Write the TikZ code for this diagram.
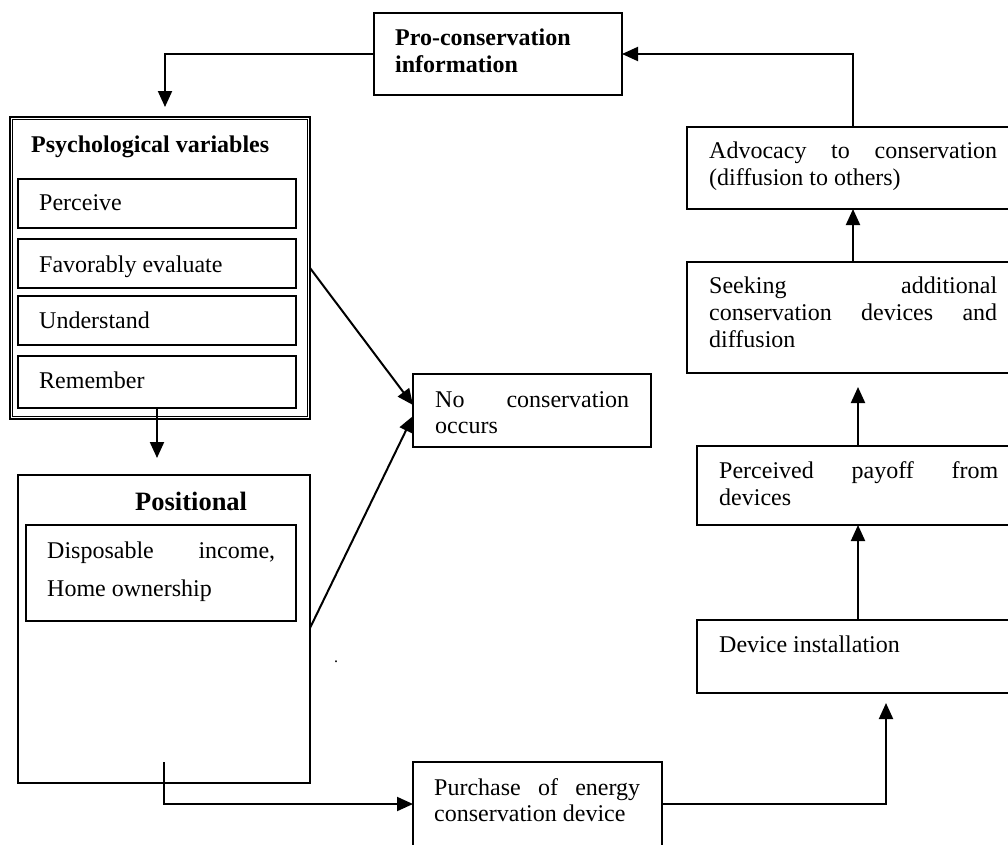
\documentclass[tikz,border=0pt]{standalone}
\usepackage{fontspec}
\setmainfont{Liberation Serif}
\usetikzlibrary{arrows.meta}
\begin{document}
\begin{tikzpicture}[x=1pt,y=-1pt,
  box/.style={draw, line width=1.7pt, inner sep=0pt, outer sep=0pt, anchor=north west},
  txt/.style={inner sep=0pt, anchor=base west, font=\fontsize{24}{27.6}\selectfont},
  hd/.style={inner sep=0pt, anchor=base west, font=\fontsize{24}{27.6}\selectfont\bfseries},
  arr/.style={line width=2pt, -{Triangle[length=16pt,width=14pt]}}]
\useasboundingbox (0,0) rectangle (1008,844);
\fill[white] (0,0) rectangle (1008,844);

% boxes
\node[box, minimum width=248pt, minimum height=82pt] (pro) at (374,13) {};
\node[box, line width=1.2pt, minimum width=300pt, minimum height=302pt] (psy) at (10,117) {};
\draw[line width=1.2pt] ([shift={(2.4,2.4)}]psy.north west) rectangle ([shift={(-2.4,-2.4)}]psy.south east);
\node[box, minimum width=278pt, minimum height=49pt] (per) at (18,179) {};
\node[box, minimum width=278pt, minimum height=49pt] (fav) at (18,239) {};
\node[box, minimum width=278pt, minimum height=49pt] (und) at (18,296) {};
\node[box, minimum width=278pt, minimum height=52pt] (rem) at (18,356) {};
\node[box, minimum width=292pt, minimum height=308pt] (pos) at (18,475) {};
\node[box, minimum width=270pt, minimum height=96pt] (inc) at (26,525) {};
\node[box, minimum width=238pt, minimum height=73pt] (nc) at (413,374) {};
\node[box, minimum width=249pt, minimum height=84pt] (pur) at (413,762) {};
\node[box, minimum width=332pt, minimum height=82pt] (adv) at (687,127) {};
\node[box, minimum width=332pt, minimum height=111pt] (seek) at (687,262) {};
\node[box, minimum width=322pt, minimum height=79pt] (perc) at (697,446) {};
\node[box, minimum width=322pt, minimum height=73pt] (dev) at (697,620) {};

% texts
\node[hd] (tpro1) at (395,45) {Pro-conservation};
\node[hd] (tpro2) at (395,72) {information};
\node[hd] (tpsy) at (31,152) {Psychological variables};
\node[txt] (tper) at (39,210) {Perceive};
\node[txt] (tfav) at (39,272) {Favorably evaluate};
\node[txt] (tund) at (39,328) {Understand};
\node[txt] (trem) at (39,388) {Remember};
\node[inner sep=0pt, anchor=base west, font=\fontsize{26.5}{30}\selectfont\bfseries] (tpos) at (135,510) {Positional};
\node[txt] (tinc1) at (47,558) {\makebox[228pt][s]{Disposable income,}};
\node[txt] (tinc2) at (47,596) {Home ownership};
\node[txt] (tnc1) at (435,407) {\makebox[194pt][s]{No conservation}};
\node[txt] (tnc2) at (435,433) {occurs};
\node[txt] (tpur1) at (434,795) {\makebox[206pt][s]{Purchase of energy}};
\node[txt] (tpur2) at (434,821) {conservation device};
\node[txt] (tadv1) at (709,158) {\makebox[288pt][s]{Advocacy to conservation}};
\node[txt] (tadv2) at (709,185) {(diffusion to others)};
\node[txt] (tsk1) at (709,293) {\makebox[288pt][s]{Seeking additional}};
\node[txt] (tsk2) at (709,320) {\makebox[288pt][s]{conservation devices and}};
\node[txt] (tsk3) at (709,347) {diffusion};
\node[txt] (tpc1) at (719,478) {\makebox[279pt][s]{Perceived payoff from}};
\node[txt] (tpc2) at (719,505) {devices};
\node[txt] (tdev) at (719,652) {Device installation};
\node[inner sep=0pt, anchor=base, font=\fontsize{16}{18}\selectfont] (dot) at (336,662) {.};

% connector end points
\coordinate (psyin) at (165,107);
\coordinate (posin) at (157,458);
\coordinate (favout) at (310,268);
\coordinate (posout) at (310,628);
\coordinate (ncin1) at (413,405);
\coordinate (ncin2) at (413,416);
\coordinate (purout) at (164,762);
\coordinate (devin) at (886,703);
\coordinate (seekin) at (858,387);

% connectors
\draw[arr] (pro.west) -| (psyin);
\draw[arr] (adv.north) |- (pro.east);
\draw[arr] (seek.north) -- (adv.south);
\draw[arr] (perc.north) -- (seekin);
\draw[arr] (dev.north) -- (perc.south);
\draw[arr] (pur.east) -| (devin);
\draw[arr] (purout) |- (pur.west);
\draw[arr] (rem.south -| posin) -- (posin);
\draw[arr] (favout) -- (ncin1);
\draw[arr] (posout) -- (ncin2);
\end{tikzpicture}
\end{document}
